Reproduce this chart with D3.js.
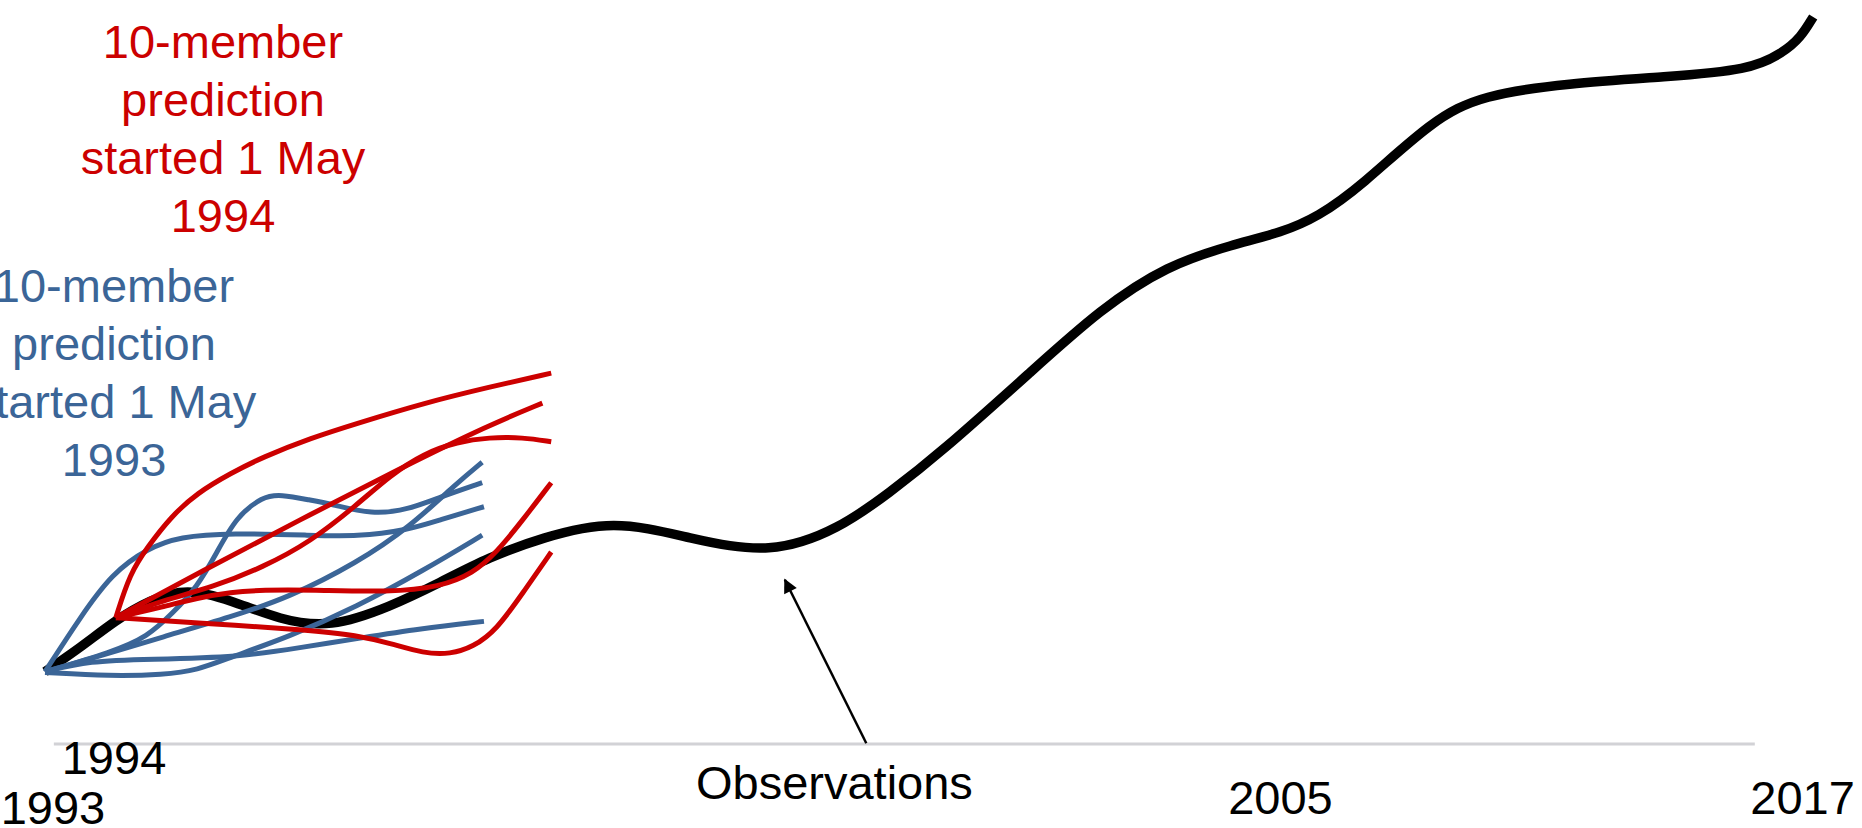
<!DOCTYPE html>
<html>
<head>
<meta charset="utf-8">
<script src="https://cdn.jsdelivr.net/npm/d3@7"></script>
<style>
  body { margin: 0; background: #fff; }
  text { font-family: "Liberation Sans", Arial, sans-serif; }
</style>
</head>
<body>
<svg id="chart"></svg>
<script>
var svgWidth = 1862;
var svgHeight = 828;

// schematic units: x = time (0 = 1 May 1993, 100 = 2017), y = quantity
var observed = [[0, 9.9], [2.0, 13.2], [4.0, 17.0], [5.9, 19.7], [8.0, 21.4], [10.5, 19.7],
  [13.3, 17.0], [16.1, 15.9], [19.5, 18.8], [22.3, 22.1], [25.1, 25.6], [28.0, 28.2],
  [32.1, 30.8], [36.4, 28.2], [41.0, 25.9], [44.9, 29.5], [47.7, 34.4], [50.6, 39.9],
  [55.8, 51.2], [59.6, 59.5], [63.4, 65.6], [67.1, 68.4], [69.9, 70.1], [71.9, 72.2],
  [74.3, 76.3], [78.4, 85.5], [81.2, 88.9], [86.0, 90.5], [91.6, 91.4], [96.3, 92.3],
  [98.2, 94.7], [99.2, 96.8], [99.9, 99.6]];

// members started 1 May 1993
var blue1 = [[0, 9.9], [2.9, 11.9], [6.7, 14.7], [10.5, 17.4], [13.8, 20.1], [17.6, 24.8], [20.6, 29.7], [23.3, 35.8], [24.7, 38.6]];
var blue2 = [[0, 9.9], [3.8, 12.6], [5.8, 14.7], [7.2, 17.9], [8.6, 21.5], [9.7, 26.2], [10.8, 31.1], [12.3, 33.9], [13.3, 34.2], [15.0, 33.4], [16.1, 32.9], [18.5, 31.4], [20.5, 32.1], [22.3, 33.8], [24.7, 35.8]];
var blue3 = [[0, 9.9], [2.0, 17.4], [3.8, 23.4], [5.8, 26.8], [7.6, 28.4], [10.5, 28.9], [15.0, 28.6], [17.6, 28.4], [20.5, 29.3], [22.3, 30.7], [24.8, 32.5]];
var blue4 = [[0, 9.8], [3.7, 9.3], [6.7, 9.5], [8.6, 10.1], [10.5, 11.9], [13.8, 14.7], [17.6, 18.8], [21.4, 23.8], [24.7, 28.6]];
var blue5 = [[0, 9.9], [2.5, 11.4], [5.9, 11.6], [11.0, 11.9], [14.4, 13.2], [17.8, 14.5], [21.2, 15.8], [24.8, 16.8]];

// members started 1 May 1994
var red1 = [[4.0, 17.3], [4.8, 23.4], [5.8, 27.0], [7.1, 31.1], [8.6, 34.4], [10.5, 37.1], [12.3, 39.3], [15.0, 41.9], [17.6, 43.9], [21.4, 46.7], [25.1, 48.9], [28.6, 50.8]];
var red2 = [[4.0, 17.3], [8.8, 23.6], [14.4, 30.7], [20.1, 37.8], [25.1, 43.7], [28.1, 46.7]];
var red3 = [[4.0, 17.3], [6.7, 19.7], [9.5, 21.5], [12.3, 24.2], [15.0, 27.7], [17.6, 32.7], [19.5, 36.8], [21.4, 39.8], [23.3, 41.4], [25.1, 42.0], [27.0, 42.0], [28.6, 41.4]];
var red4 = [[4.0, 17.3], [6.7, 18.8], [8.6, 20.0], [10.5, 20.8], [12.3, 21.1], [15.0, 21.1], [19.5, 20.8], [22.3, 21.5], [24.2, 23.4], [25.5, 26.2], [27.0, 30.7], [28.6, 35.8]];
var red5 = [[4.0, 17.3], [8.6, 16.6], [15.0, 15.6], [17.6, 14.9], [19.5, 13.8], [21.4, 12.4], [22.9, 12.3], [24.2, 13.3], [25.5, 15.6], [27.0, 20.7], [28.6, 26.3]];

var tickLabels = ["1993", "1994", "Observations", "2005", "2017"];
var tickValues = [0.45, 3.9, 44.6, 69.8, 99.3];
var axisExtent = [0.5, 96.6];
var arrowFrom = [46.4, 0.1];
var arrowTo = [41.8, 22.5];

var redNote = ["10-member", "prediction", "started 1 May", "1994"];
var blueNote = ["10-member", "prediction", "started 1 May", "1993"];

var redColor = "#cc0000";
var blueColor = "#3b6597";
var fontSize = 47;
var labelDrop = [80, 30, 55, 70, 70]; // how far each axis label sits below the axis

var xScale = d3.scaleLinear().domain([0, 100]).range([45, 1815]);
var yScale = d3.scaleLinear().domain([0, 100]).range([744, 14]);

var svg = d3.select("#chart")
    .attr("width", svgWidth)
    .attr("height", svgHeight);

var line = d3.line()
    .x(function(d) { return xScale(d[0]); })
    .y(function(d) { return yScale(d[1]); })
    .curve(d3.curveBasis);

// axis line
svg.append("line")
    .attr("x1", xScale(axisExtent[0]))
    .attr("x2", xScale(axisExtent[1]))
    .attr("y1", yScale(0))
    .attr("y2", yScale(0))
    .style("stroke", "#d2d2d6")
    .style("stroke-width", 3);

// observations
svg.append("path")
    .datum(observed)
    .attr("d", line)
    .style("fill", "none")
    .style("stroke", "#000")
    .style("stroke-width", 9.5);

svg.selectAll(".blue-run")
    .data([blue1, blue2, blue3, blue4, blue5])
    .enter()
    .append("path")
    .attr("class", "blue-run")
    .attr("d", line)
    .style("fill", "none")
    .style("stroke", blueColor)
    .style("stroke-width", 5);

svg.selectAll(".red-run")
    .data([red1, red2, red3, red4, red5])
    .enter()
    .append("path")
    .attr("class", "red-run")
    .attr("d", line)
    .style("fill", "none")
    .style("stroke", redColor)
    .style("stroke-width", 5);

// arrow pointing at observations
svg.append("defs").append("marker")
    .attr("id", "head")
    .attr("viewBox", "0 0 10 10")
    .attr("refX", 9)
    .attr("refY", 5)
    .attr("markerUnits", "userSpaceOnUse")
    .attr("markerWidth", 17)
    .attr("markerHeight", 14)
    .attr("orient", "auto")
    .append("path")
    .attr("d", "M0,0L10,5L0,10Z")
    .style("fill", "#000");

svg.append("line")
    .attr("x1", xScale(arrowFrom[0]))
    .attr("y1", yScale(arrowFrom[1]))
    .attr("x2", xScale(arrowTo[0]))
    .attr("y2", yScale(arrowTo[1]))
    .style("stroke", "#000")
    .style("stroke-width", 2.5)
    .attr("marker-end", "url(#head)");

// axis labels
svg.selectAll(".tick-label")
    .data(tickLabels)
    .enter()
    .append("text")
    .attr("class", "tick-label")
    .attr("x", function(d, i) { return xScale(tickValues[i]); })
    .attr("y", function(d, i) { return yScale(0) + labelDrop[i]; })
    .attr("text-anchor", "middle")
    .style("font-size", fontSize + "px")
    .style("fill", "#000")
    .text(function(d) { return d; });

// notes
function note(lines, cx, firstBaseline, color) {
    svg.append("g").selectAll("text")
        .data(lines)
        .enter()
        .append("text")
        .attr("x", cx)
        .attr("y", function(d, i) { return firstBaseline + i * 58; })
        .attr("text-anchor", "middle")
        .style("font-size", fontSize + "px")
        .style("fill", color)
        .text(function(d) { return d; });
}
note(redNote, 223, 58, redColor);
note(blueNote, 114, 302, blueColor);
</script>
</body>
</html>
